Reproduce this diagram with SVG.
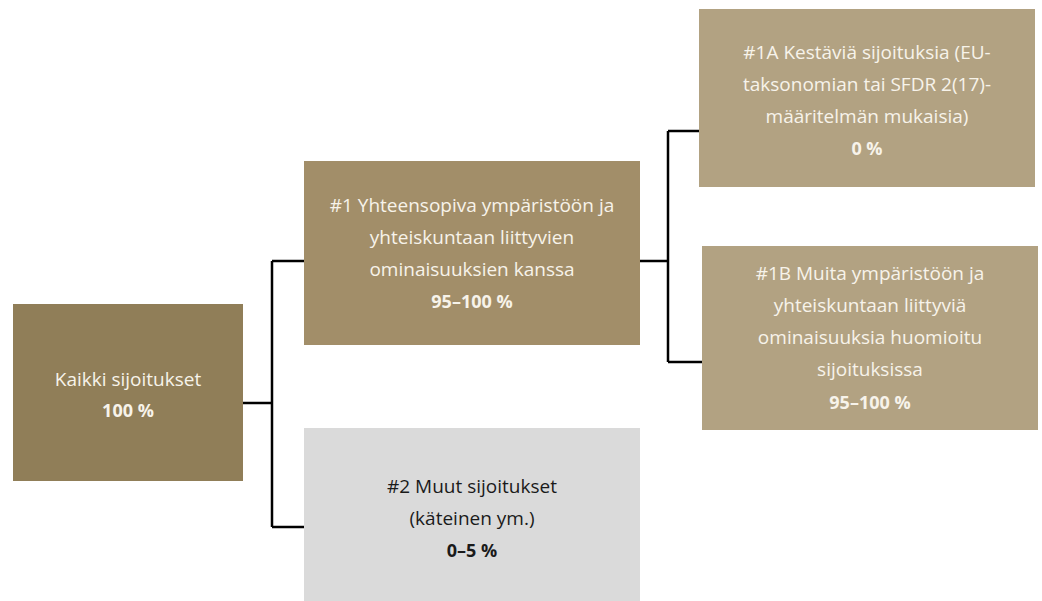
<svg xmlns="http://www.w3.org/2000/svg" width="1042" height="601" viewBox="0 0 1042 601">
<style>
.t{font-family:"Open Sans","Liberation Sans",sans-serif;font-size:19px;text-anchor:middle;fill:#F7F3EA}
.b{font-weight:bold;font-size:18px}
.d{fill:#1A1A1A}
.c{fill:none;stroke:#000;stroke-width:2.5}
</style>
<rect width="1042" height="601" fill="#fff"/>
<g id="connectors">
<path class="c" d="M243,403H272M272,261V527M272,261H304M272,527H304"/>
<path class="c" d="M640,261H668M668,131V362M668,131H699M668,362H702"/>
</g>
<g id="all">
<rect x="13" y="304" width="230" height="177" fill="#907E58"/>
<text class="t" x="128" y="386">Kaikki sijoitukset</text>
<text class="t b" x="128" y="417">100 %</text>
</g>
<g id="n1">
<rect x="304" y="161" width="336" height="184" fill="#A28E69"/>
<text class="t" x="472" y="212">#1 Yhteensopiva ympäristöön ja</text>
<text class="t" x="472" y="244">yhteiskuntaan liittyvien</text>
<text class="t" x="472" y="276">ominaisuuksien kanssa</text>
<text class="t b" x="472" y="308">95–100 %</text>
</g>
<g id="n2">
<rect x="304" y="428" width="336" height="173" fill="#DADADA"/>
<text class="t d" x="472" y="493">#2 Muut sijoitukset</text>
<text class="t d" x="472" y="525">(käteinen ym.)</text>
<text class="t d b" x="472" y="557">0–5 %</text>
</g>
<g id="n1a">
<rect x="699" y="9" width="336" height="178" fill="#B2A282"/>
<text class="t" x="867" y="59">#1A Kestäviä sijoituksia (EU-</text>
<text class="t" x="867" y="91">taksonomian tai SFDR 2(17)-</text>
<text class="t" x="867" y="123">määritelmän mukaisia)</text>
<text class="t b" x="867" y="155">0 %</text>
</g>
<g id="n1b">
<rect x="702" y="246" width="336" height="184" fill="#B2A282"/>
<text class="t" x="870" y="280">#1B Muita ympäristöön ja</text>
<text class="t" x="870" y="312">yhteiskuntaan liittyviä</text>
<text class="t" x="870" y="344">ominaisuuksia huomioitu</text>
<text class="t" x="870" y="376">sijoituksissa</text>
<text class="t b" x="870" y="409">95–100 %</text>
</g>
</svg>
